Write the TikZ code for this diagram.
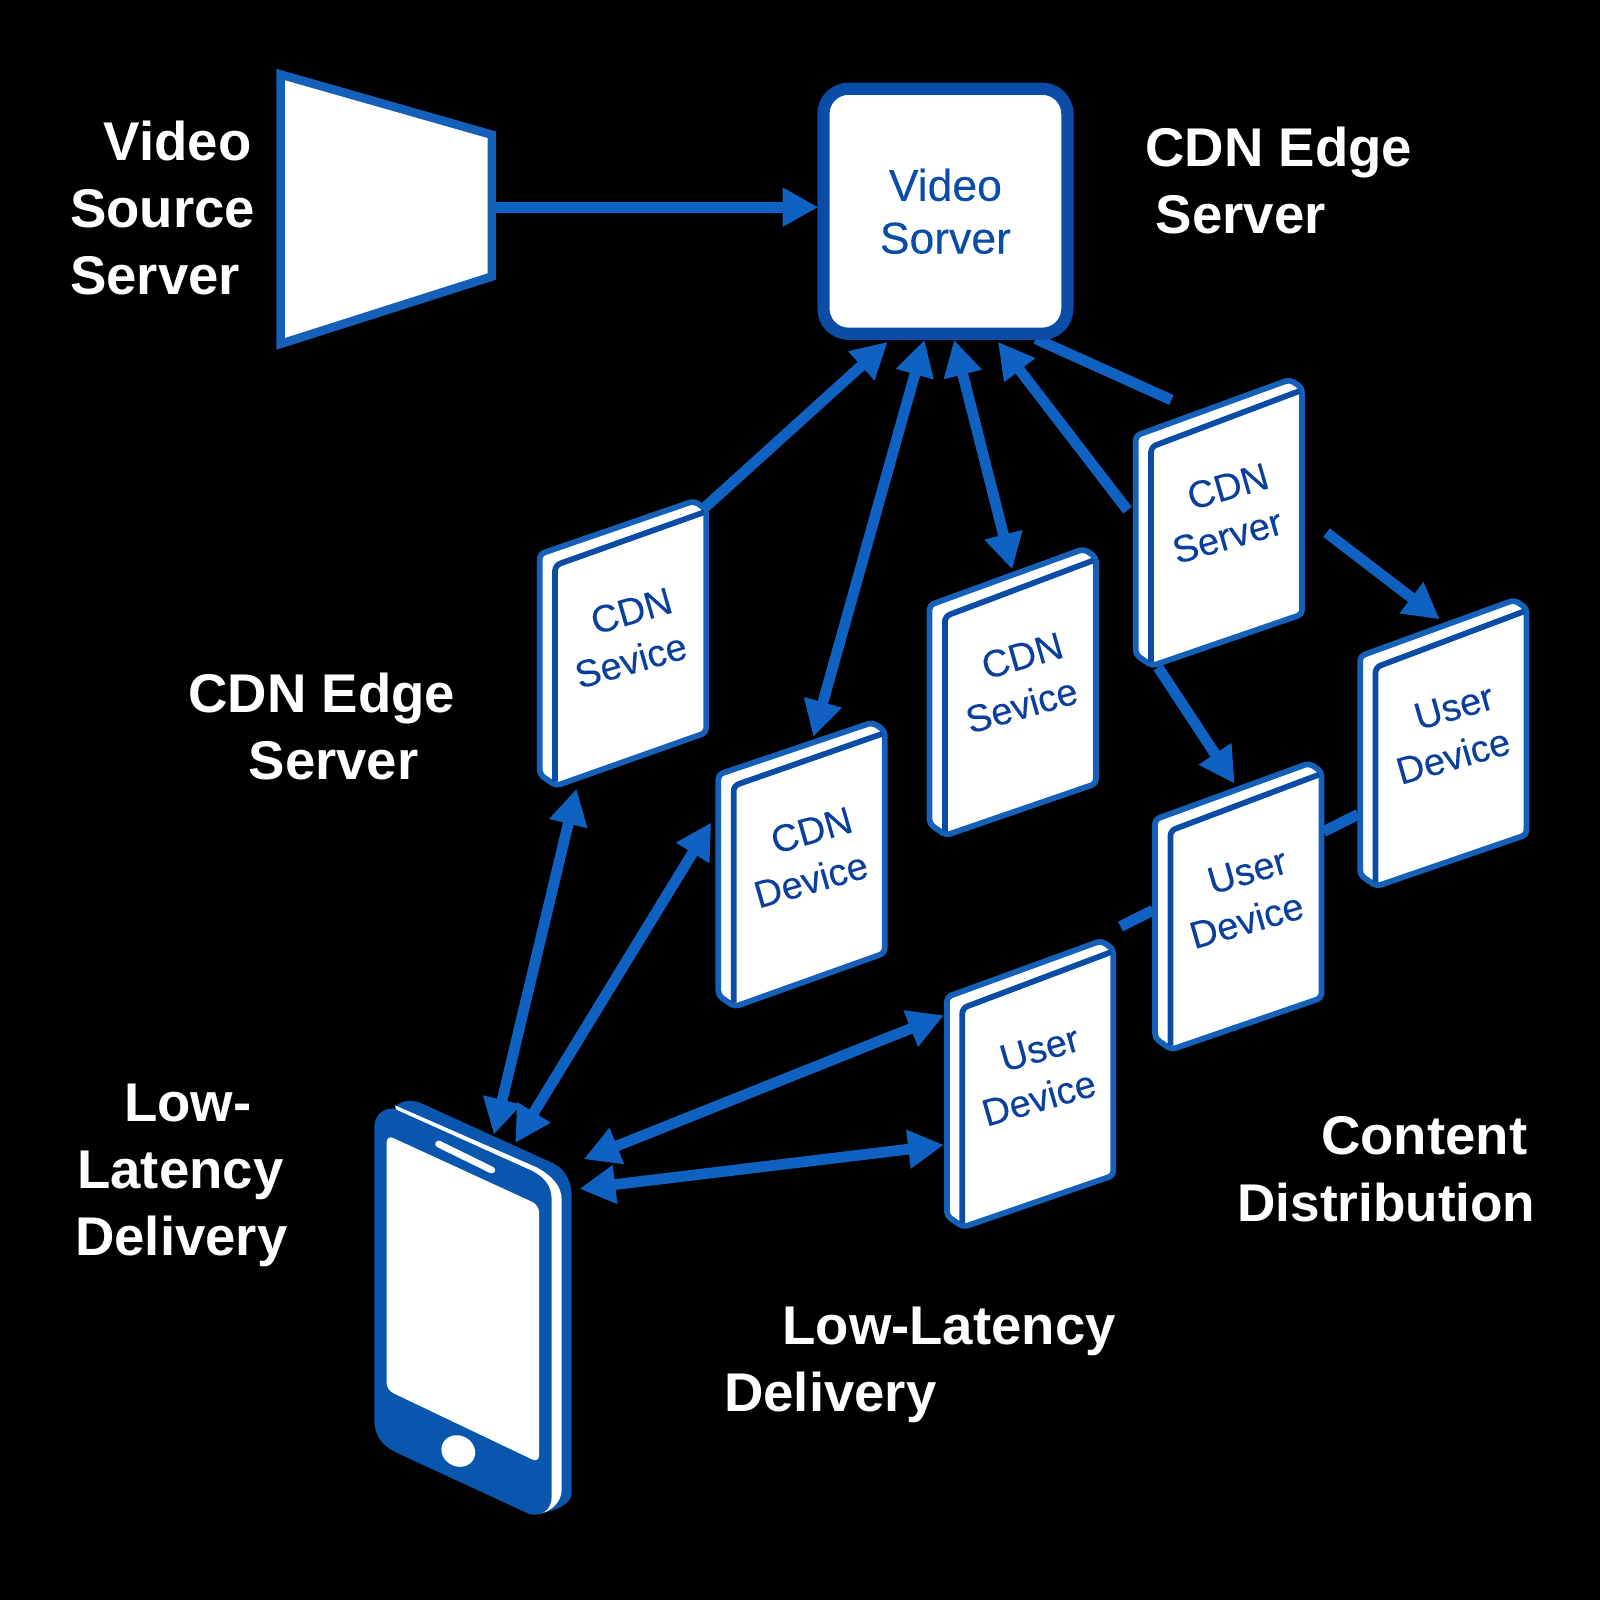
\documentclass[tikz,border=0pt]{standalone}
\usepackage{fontspec}
\setmainfont{Liberation Sans}
\newfontfamily\medfont[FakeBold=0.25]{Liberation Sans}
\newfontfamily\bookfont[FakeBold=0.12]{Liberation Sans}
\usetikzlibrary{arrows.meta}
\definecolor{linkblue}{HTML}{1062C2}
\definecolor{edgeblue}{HTML}{1560B8}
\definecolor{deepblue}{HTML}{0A4CA6}
\definecolor{inkblue}{HTML}{0B3F9C}
\definecolor{phoneblue}{HTML}{0A55AE}
\tikzset{
  x=0.01cm,y=-0.01cm,
  tip/.tip={Triangle[length=.35cm,width=.36cm]},
  link/.style={draw=linkblue,line width=3pt},
  onearrow/.style={link,-tip},
  twoarrow/.style={link,tip-tip},
  plainlink/.style={link},
  biglabel/.style={text=white,inner sep=0pt,align=left,anchor=west,font=\fontsize{15.2}{18.6}\selectfont\bfseries},
  booklabel/.style={text=inkblue,inner sep=0pt,align=center,rotate=16,font=\bookfont\fontsize{10.6}{13.3}\selectfont},
  bookouter/.style={fill=white,draw=edgeblue,line width=1.6pt,rounded corners=1.2pt,line join=round},
  bookfront/.style={draw=deepblue,line width=1.6pt,rounded corners=1.5pt},
}
\newcommand{\bookat}[3]{%
  \begin{scope}[shift={(#1,#2)}]
    \path[bookouter] (2,3) -- (153,-47-#3) -- (165,-39-#3) -- (165,178) -- (18,231-#3/2) -- (2,220-#3/2) -- cycle;
    \path[bookfront] (17,227-#3/2) -- (17,14) -- (163,-36-#3);
  \end{scope}}
\newcommand{\booklines}[2]{\hspace*{.14cm}#1\\#2\hspace*{.14cm}}
\begin{document}
\begin{tikzpicture}
\useasboundingbox (0,0) rectangle (1568,1568);
\fill[black] (0,0) rectangle (1568,1568);

% connector ends
\coordinate (srcout) at (484,203);
\coordinate (srvin) at (802,203);
\coordinate (srvA) at (870,335);
\coordinate (srvB) at (906,333);
\coordinate (srvC) at (935,333);
\coordinate (srvD) at (978,335);
\coordinate (srvE) at (1015,332);
\coordinate (bookAtop) at (690,498);
\coordinate (bookBtop) at (797,722);
\coordinate (bookCtop) at (992,558);
\coordinate (bookDleft) at (1105,500);
\coordinate (bookDtop) at (1148,392);
\coordinate (bookDright) at (1300,522);
\coordinate (bookDbot) at (1135,654);
\coordinate (bookEtop) at (1411,607);
\coordinate (bookFtop) at (1210,768);
\coordinate (bookFright) at (1297,815);
\coordinate (bookEleft) at (1331,798);
\coordinate (bookGright) at (1098,908);
\coordinate (bookFleft) at (1130,892);
\coordinate (bookAbot) at (565,773);
\coordinate (bookBleft) at (697,806);
\coordinate (bookGa) at (925,995);
\coordinate (bookGb) at (925,1122);
\coordinate (phoneA) at (484,1112);
\coordinate (phoneB) at (505,1120);
\coordinate (phoneC) at (572,1136);
\coordinate (phoneD) at (568,1165);

% connectors
\draw[onearrow] (srcout) -- (srvin);
\draw[onearrow] (bookAtop) -- (srvA);
\draw[twoarrow] (srvB) -- (bookBtop);
\draw[twoarrow] (srvC) -- (bookCtop);
\draw[onearrow] (bookDleft) -- (srvD);
\draw[plainlink] (bookDtop) -- (srvE);
\draw[onearrow] (bookDright) -- (bookEtop);
\draw[onearrow] (bookDbot) -- (bookFtop);
\draw[plainlink] (bookFright) -- (bookEleft);
\draw[plainlink] (bookGright) -- (bookFleft);
\draw[twoarrow] (bookAbot) -- (phoneA);
\draw[twoarrow] (bookBleft) -- (phoneB);
\draw[twoarrow] (bookGa) -- (phoneC);
\draw[twoarrow] (bookGb) -- (phoneD);

% source trapezoid
\draw[edgeblue,fill=white,line width=2.4pt,miter limit=3] (275,73) -- (482,132) -- (482,271) -- (275,337) -- cycle;

% edge server
\node[draw=deepblue,fill=white,line width=3.4pt,rounded corners=7pt,minimum width=2.39cm,minimum height=2.4cm,text=deepblue,align=center,inner sep=0pt,font=\medfont\fontsize{12.4}{14.7}\selectfont] (server) at (926.5,207) {Video\\[0pt]Sorver};

% books
\bookat{527}{540}{2}
\bookat{702}{756}{1}
\bookat{909}{590}{5}
\bookat{1111}{424}{5}
\bookat{1331}{640}{5}
\bookat{1130}{800}{5}
\bookat{926}{974}{5}
\node[booklabel] (bookA) at (618.5,623) {\booklines{CDN}{Sevice}};
\node[booklabel] (bookB) at (795,838) {\booklines{CDN}{Device}};
\node[booklabel] (bookC) at (1001.5,667) {\booklines{CDN}{Sevice}};
\node[booklabel] (bookD) at (1203,501) {\booklines{CDN}{Server}};
\node[booklabel] (bookE) at (1424.5,717) {\booklines{User}{Device}};
\node[booklabel] (bookF) at (1222,878) {\booklines{User}{Device}};
\node[booklabel] (bookG) at (1018.5,1052) {\booklines{User}{Device}};

% phone
\begin{scope}[shift={(333.2,1058.4)},x=0.003267cm,y=-0.003267cm]
  \fill[phoneblue] (165,82) .. controls (180,62) and (210,58) .. (240,68) -- (640,250) .. controls (680,270) and (695,310) .. (695,350) -- (695,1240) .. controls (695,1270) and (650,1292) .. (600,1300) -- cycle;
  \fill[white] (165,76) -- (590,262) .. controls (640,290) and (665,320) .. (665,360) -- (665,1230) .. controls (665,1260) and (640,1290) .. (605,1300) -- (560,1290) -- cycle;
  \fill[phoneblue] (103,140) .. controls (103,105) and (130,85) .. (160,85) -- (575,272) .. controls (615,292) and (635,320) .. (635,360) -- (635,1250) .. controls (635,1285) and (610,1310) .. (570,1303) -- (170,1118) .. controls (130,1100) and (103,1070) .. (103,1020) -- cycle;
  \fill[white,rounded corners=2pt] (140,165) -- (597,375) -- (597,1148) -- (140,930) -- cycle;
  \draw[white,line width=1.9pt,line cap=round] (296,192) -- (455,270);
  \fill[white,rotate around={-28:(355,1113)}] (355,1113) ellipse [x radius=52,y radius=46];
\end{scope}

% labels
\node[biglabel] (lblSource) at (68,204) {\hspace*{.33cm}Video\\Source\\Server};
\node[biglabel] (lblEdgeA) at (1122,177) {CDN Edge\\\hspace*{.1cm}Server};
\node[biglabel] (lblEdgeB) at (184,712) {CDN Edge\\\hspace*{.59cm}Server};
\node[biglabel] (lblLowA) at (73,1152) {\hspace*{.48cm}Low-\\\hspace*{.02cm}Latency\\Delivery};
\node[biglabel] (lblLowB) at (709,1337.5) {\hspace*{.57cm}Low-Latency\\Delivery};
\node[biglabel] (lblDist) at (1212,1146) {\hspace*{.82cm}Content\\\fontsize{14.8}{18.6}\selectfont Distribution};
\end{tikzpicture}
\end{document}
